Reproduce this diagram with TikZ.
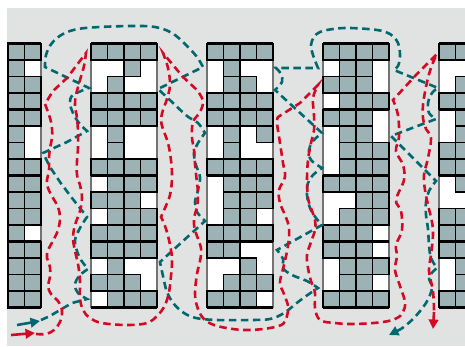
\documentclass[tikz,border=0pt]{standalone}
\usetikzlibrary{arrows.meta}
\definecolor{bggray}{HTML}{E1E3E3}
\definecolor{cellgray}{HTML}{9CB2B5}
\definecolor{tealc}{HTML}{00686E}
\definecolor{redc}{HTML}{D40A24}
\tikzset{
  cellg/.style={fill=cellgray, draw=black, line width=1.3pt},
  midline/.style={draw=black, line width=2pt},
  edgeline/.style={draw=black!55, line width=2pt},
  barline/.style={draw=black, line width=3.3pt},
  tline/.style={draw=tealc, line width=2.6pt, dash pattern=on 7.5pt off 4.5pt},
  rline/.style={draw=redc, line width=2.6pt, dash pattern=on 7.5pt off 4.5pt},
  ttip/.style={draw=tealc, line width=2.6pt, -{Triangle[length=9.5pt,width=9.5pt]}},
  rtip/.style={draw=redc, line width=2.6pt, -{Triangle[length=9.5pt,width=9.5pt]}},
  sm/.style={smooth, tension=0.6}
}
\newcommand{\gridcol}[2]{%
  \fill[white] (#1,43.5) rectangle ++(66,264);
  \draw[edgeline] (#1,43.5) -- ++(0,264);
  \draw[edgeline] ({#1+66},43.5) -- ++(0,264);
  \foreach \a/\b/\c/\d [count=\r from 0] in {#2} {
    \foreach \v [count=\k from 0] in {\a,\b,\c,\d} {
      \ifnum\v=1 \filldraw[cellg] ({#1+16.5*\k},{43.5+16.5*\r}) rectangle ++(16.5,16.5);\fi
    }
    \pgfmathtruncatemacro{\mymid}{\b+\c}
    \ifnum\mymid>0 \draw[midline] ({#1+33},{43.5+16.5*\r}) -- ++(0,16.5);\fi
  }
  \foreach \yy in {43.5,109.5,175.5,241.5,307.5} \draw[barline] (#1,\yy) -- ++(66,0);
}
\begin{document}
\begin{tikzpicture}[x=1pt,y=-1pt]
\useasboundingbox (0,0) rectangle (465,346);
\fill[white] (0,0) rectangle (465,346);
\fill[bggray] (7,8) rectangle (465,346);
\begin{scope}
\clip (7,8) rectangle (465,346);
% column 1 (partly visible)
\gridcol{-25}{1/1/1/1,1/1/1/0,1/1/1/1,1/1/1/1,1/1/1/1,1/1/1/0,1/1/1/0,1/1/1/1,1/1/1/1,1/1/1/1,1/1/1/1,1/1/1/0,1/1/1/1,1/1/1/1,1/1/1/1,1/1/1/1}
% column 2
\gridcol{91}{1/1/1/1,0/0/1/0,0/1/0/0,1/1/1/1,1/1/1/1,0/1/0/0,0/1/0/0,1/1/1/1,0/1/1/1,1/1/1/0,0/1/1/1,1/1/1/1,1/1/1/1,0/1/0/0,1/1/1/0,0/1/1/1}
% column 3
\gridcol{207}{1/1/1/1,0/1/0/0,0/1/1/0,1/1/1/1,1/1/1/1,0/1/0/1,0/1/0/0,1/1/1/1,0/1/1/1,0/1/1/1,0/1/1/0,1/1/1/1,1/1/0/0,0/0/1/0,0/1/1/1,1/1/1/0}
% column 4
\gridcol{323}{1/1/1/1,0/1/1/0,1/1/1/0,0/1/1/1,1/1/1/0,0/1/1/0,0/1/1/1,0/1/1/1,1/1/1/1,0/0/1/1,0/1/1/1,1/1/1/0,1/1/1/0,0/1/1/1,0/1/1/0,1/1/1/1}
% column 5 (partly visible)
\gridcol{439}{1/1/1/1,0/0/1/1,0/1/1/1,1/1/1/1,0/1/1/1,0/1/1/1,1/1/1/1,1/1/1/1,0/1/1/1,0/0/1/1,1/1/1/1,1/1/1/1,1/1/1/1,0/1/1/1,0/1/1/1,1/1/1/1}

% teal path
\draw[ttip] (17,325) -- (40,321);
\draw[tline] (41,320) -- (50,316) -- (60,310) -- (72,303) -- (87,299)
 -- plot[sm] coordinates {(87,299) (78,293) (75,285) (79,276) (88,269)}
 -- plot[sm] coordinates {(88,269) (81,260) (77,251) (75,240) (80,228) (87,217)}
 -- (72,198) -- (60,182) -- (50,167) -- (43,153)
 -- (67,142) -- (87,131)
 -- plot[sm] coordinates {(87,131) (79,123) (73,113) (70,103) (73,95) (89,88)}
 -- (45,67)
 -- plot[sm] coordinates {(45,67) (46,55) (52,43) (63,34) (78,29) (100,27) (133,26) (155,27) (172,33) (186,45) (197,57) (203,67)}
 -- (158,89)
 -- plot[sm] coordinates {(158,89) (172,102) (187,116) (198,123) (205,133)}
 -- plot[sm] coordinates {(205,133) (198,143) (194,153) (196,165) (200,177) (198,190) (195,202) (197,212) (205,221)}
 -- (160,262)
 -- plot[sm] coordinates {(160,262) (163,276) (167,292) (174,304) (184,313) (196,318) (217,320) (250,320) (270,319) (284,313) (298,302) (309,294) (318,288)}
 -- plot[sm] coordinates {(318,288) (307,281) (292,275) (283,268) (283,259) (277,250)}
 -- (322,225)
 -- plot[sm] coordinates {(322,225) (316,218) (310,208) (307,195) (308,183) (313,175) (322,168)}
 -- plot[sm] coordinates {(322,168) (311,160) (309,150) (313,141) (322,133)}
 -- (275,90)
 -- plot[sm] coordinates {(275,90) (282,82) (281,74) (276,68)}
 -- (318,68)
 -- plot[sm] coordinates {(318,68) (313,55) (311,45) (314,37) (320,32) (333,29) (350,28) (377,30) (390,34) (398,43) (400,56) (398,66) (394,70)}
 -- (438,88)
 -- plot[sm] coordinates {(438,88) (432,93) (428,103) (429,113) (436,119)}
 -- (391,136) -- (436,181)
 -- plot[sm] coordinates {(436,181) (429,191) (426,202) (426,215) (428,229) (429,245) (431,258) (437,268)}
 -- plot[sm] coordinates {(437,268) (429,277) (432,288) (426,303) (413,319) (401,329)};
\draw[ttip] (401,329) -- (389,335);

% red path
\draw[rtip] (11,335) -- (35,333);
\draw[rline] (36,334)
 -- plot[sm] coordinates {(36,334) (46,334) (54,330) (60,322) (62,311) (58,301) (51,294) (48,286) (50,277) (50,267) (47,258) (48,250) (53,241) (58,230) (60,218) (58,207) (53,198) (48,188) (47,180) (49,170) (49,158) (50,148) (52,138) (52,128) (50,118) (45,104)}
 -- (53,91) -- (67,78) -- (86,53)
 -- plot[sm] coordinates {(86,53) (84,66) (80,80) (76,95) (75,105) (77,118) (78,132) (78,148) (77,161) (77,175) (80,185) (82,198) (80,211) (75,225) (73,238) (75,251) (78,264) (80,280) (80,298) (83,310) (90,318) (102,323) (127,325) (147,323) (158,315) (165,305) (169,292) (171,276) (172,258) (169,240) (165,226) (161,217)}
 -- plot[sm] coordinates {(161,217) (165,208) (170,195) (172,178) (171,160) (168,143) (163,129) (161,120) (163,110) (167,99) (170,85) (168,68) (163,53)}
 -- (183,77) -- (197,90)
 -- plot[sm] coordinates {(197,90) (203,101) (200,112) (193,122) (192,137) (194,150) (195,164) (197,183) (198,193) (197,207) (194,218) (195,230) (201,248) (200,261) (197,274) (195,293) (197,306) (203,318) (214,325) (233,329) (250,330) (270,328) (283,324) (287,316) (288,306) (284,294) (280,283) (283,269) (288,246) (289,228) (285,215) (280,203) (279,190) (285,177) (283,163) (280,143) (277,123) (278,117)}
 -- (300,103) -- (318,85)
 -- plot[sm] coordinates {(318,85) (313,98) (314,115) (314,130) (311,143) (308,160) (307,180) (308,198) (311,208) (315,220) (315,230) (311,242) (307,255) (308,268) (311,281) (315,293) (315,308) (320,320) (335,323) (355,324) (383,322) (397,318) (403,312) (405,302) (400,286) (395,270) (397,256) (396,245) (402,230) (401,211) (396,200) (404,180) (403,165) (396,151) (399,137) (398,115) (393,100)}
 -- (416,75) -- (437,54)
 -- plot[sm] coordinates {(437,54) (432,65) (428,78) (425,92) (423,105) (423,118) (426,129) (431,138) (428,158) (424,175) (425,190) (428,205) (432,222) (433,235) (431,255) (429,271) (433,291) (434,312)};
\draw[rtip] (434,312) -- (433,329);
\end{scope}
\end{tikzpicture}
\end{document}
